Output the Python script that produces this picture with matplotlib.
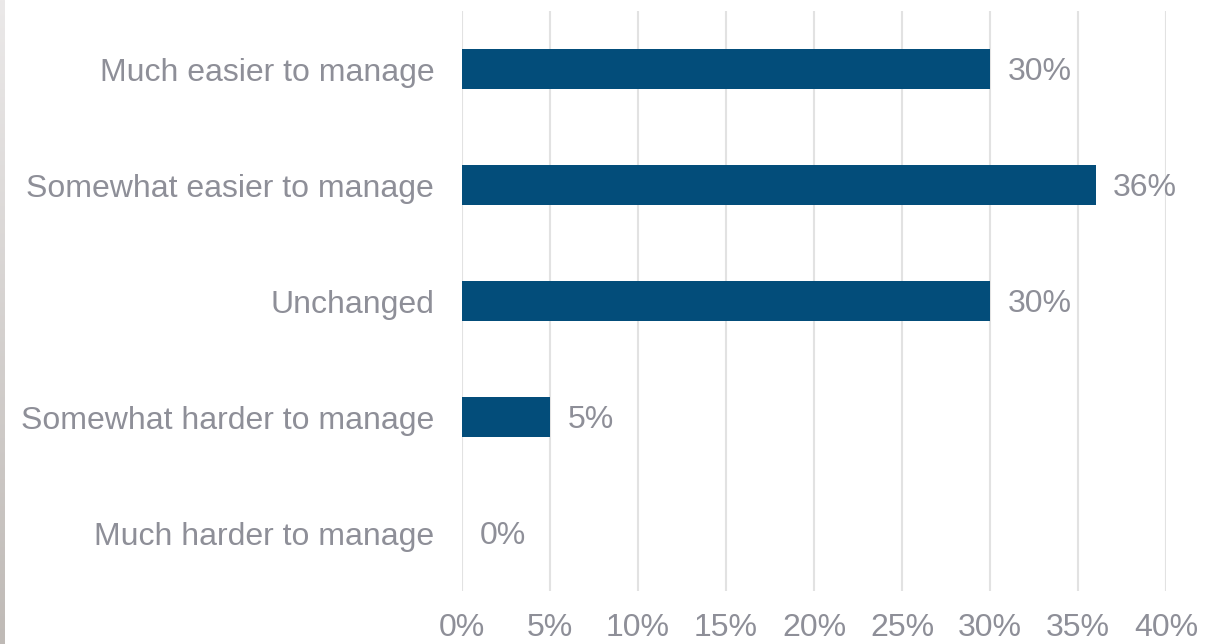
import numpy as np
import matplotlib
matplotlib.use("Agg")
import matplotlib.pyplot as plt
from matplotlib.colors import LinearSegmentedColormap

categories = ["Much easier to manage", "Somewhat easier to manage", "Unchanged",
              "Somewhat harder to manage", "Much harder to manage"]
shares = [30, 36, 30, 5, 0]
xticks = [0, 5, 10, 15, 20, 25, 30, 35, 40]

BAR = "#034d7a"
TXT = "#8e8f98"
GRID = "#e2e2e2"
FS = 23

plt.rcParams["font.family"] = ["Liberation Sans", "DejaVu Sans"]

fig = plt.figure(figsize=(12.27, 6.44), dpi=100)
ax = fig.add_axes([462 / 1227, 1 - 591 / 644, 704 / 1227, 580 / 644])

y = np.arange(len(categories))
ax.barh(y, shares, height=0.34, color=BAR, zorder=2)
for yi, v in zip(y, shares):
    ax.text(v + 1.0, yi, "%d%%" % v, va="center_baseline", ha="left",
            fontsize=FS, color=TXT)

ax.set_xlim(0, 40)
ax.set_ylim(len(categories) - 0.5, -0.5)
ax.set_yticks(y)
ax.set_yticklabels(categories, fontsize=FS, color=TXT, va="center_baseline")
ax.set_xticks(xticks)
ax.set_xticklabels(["%d%%" % t for t in xticks], fontsize=FS, color=TXT)
ax.tick_params(axis="both", length=0)
ax.tick_params(axis="y", pad=20)
ax.tick_params(axis="x", pad=16)
ax.grid(axis="x", color=GRID, lw=1.5, zorder=0)
ax.set_axisbelow(True)
for s in ax.spines.values():
    s.set_visible(False)

# thin shaded strip down the left edge
strip = fig.add_axes([0, 0, 5 / 1227, 1])
cmap = LinearSegmentedColormap.from_list("edge", ["#ebe9e9", "#bfbab6"])
strip.imshow(np.linspace(0, 1, 256).reshape(-1, 1), aspect="auto", cmap=cmap)
strip.axis("off")

fig.savefig("out.png", dpi=100)
